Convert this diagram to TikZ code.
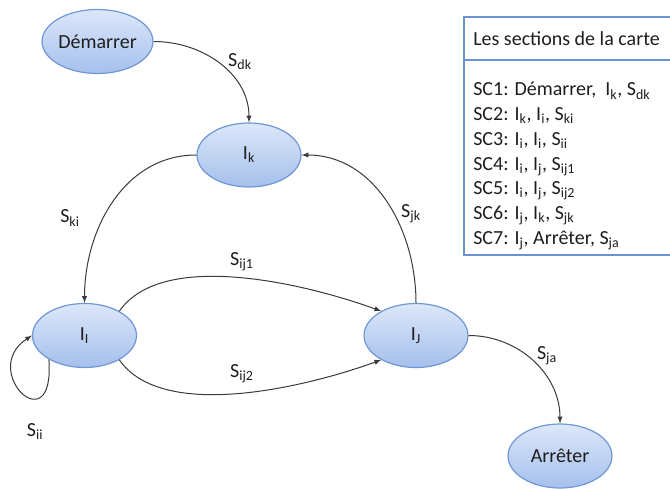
\documentclass[tikz,border=0pt]{standalone}
\usepackage{fontspec}
\setmainfont{Carlito}
\usetikzlibrary{shapes.geometric}

\definecolor{etatline}{HTML}{6F97D5}
\definecolor{etattop}{HTML}{DCE7F9}
\definecolor{etatbot}{HTML}{A5C0EC}
\definecolor{boxline}{HTML}{6A93D4}
\definecolor{edgegray}{HTML}{3A3A3A}
\definecolor{txtgray}{HTML}{1E1E1E}

\newcommand\bigfont{\fontsize{15}{18}\selectfont}
\newcommand\ix[1]{\textsubscript{#1}}

\tikzset{
  etat/.style={ellipse, draw=etatline, line width=0.9pt, top color=etattop,
    bottom color=etatbot, minimum width=78pt, minimum height=48pt,
    inner sep=0pt, text=txtgray, font=\bigfont},
  trans/.style={draw=edgegray, line width=0.75pt, -latex},
  lbl/.style={text=txtgray, font=\bigfont, inner sep=0pt},
  item/.style={text=txtgray, font=\bigfont, inner sep=0pt, anchor=base west}
}

\begin{document}
\begin{tikzpicture}[x=0.75pt,y=0.75pt]
  \useasboundingbox (0,0) rectangle (670,489);
  \clip (0,0) rectangle (670,489);

  % states
  \node[etat] (dem) at (97.5,447.5) {Démarrer};
  \node[etat] (ik) at (249,334) {I\ix{k}};
  \node[etat] (ii) at (84.5,153.5) {I\ix{I}};
  \node[etat] (ij) at (416,153.5) {I\ix{J}};
  \node[etat] (arr) at (560,33) {Arrêter};

  % transitions
  \draw[trans] (dem.east) to[out=0,in=90] (ik.north);
  \draw[trans] (ik.west) to[out=180,in=90] (ii.north);
  \draw[trans] (ij.north) to[out=90,in=0] (ik.east);
  \draw[trans] (ii.35) to[out=55,in=160,looseness=0.75] (ij.145);
  \draw[trans] (ii.-35) to[out=-55,in=-160,looseness=0.75] (ij.-145);
  \draw[trans] (ii.214) .. controls (55,44) and (-22,118) .. (ii.west);
  \draw[trans] (ij.east) to[out=0,in=90] (arr.north);

  % labels
  \node[lbl] (sdk) at (240,427) {S\ix{dk}};
  \node[lbl] (ski) at (70,271) {S\ix{ki}};
  \node[lbl] (sjk) at (411,275) {S\ix{jk}};
  \node[lbl] (sij1) at (242,227) {S\ix{ij1}};
  \node[lbl] (sij2) at (242,115) {S\ix{ij2}};
  \node[lbl] (sii) at (35,57) {S\ix{ii}};
  \node[lbl] (sja) at (547,133) {S\ix{ja}};

  % legend box
  \draw[boxline, line width=0.9pt] (464,472) rectangle (690,234);
  \draw[boxline, line width=0.9pt] (464,429) -- (690,429);
  \node[item] (head) at (473,443) {Les sections de la carte};
  \node[item] (sc1) at (473,393) {SC1: Démarrer,\ \ I\ix{k}, S\ix{dk}};
  \node[item] (sc2) at (473,368.3) {SC2: I\ix{k}, I\ix{i}, S\ix{ki}};
  \node[item] (sc3) at (473,343.6) {SC3: I\ix{i}, I\ix{i}, S\ix{ii}};
  \node[item] (sc4) at (473,318.9) {SC4: I\ix{i}, I\ix{j}, S\ix{ij1}};
  \node[item] (sc5) at (473,294.2) {SC5: I\ix{i}, I\ix{j}, S\ix{ij2}};
  \node[item] (sc6) at (473,269.5) {SC6: I\ix{j}, I\ix{k}, S\ix{jk}};
  \node[item] (sc7) at (473,244.8) {SC7: I\ix{j}, Arrêter,\ S\ix{ja}};
\end{tikzpicture}
\end{document}
